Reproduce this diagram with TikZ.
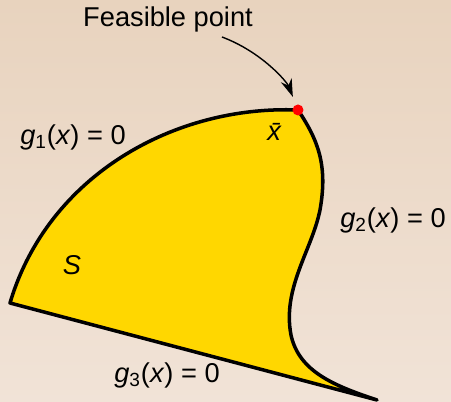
\documentclass[tikz,border=0pt]{standalone}
\usepackage{fontspec}
\setmainfont{Liberation Sans}
\usepackage{xcolor}
\usetikzlibrary{arrows.meta,positioning}
\definecolor{bgtop}{HTML}{E8D3BE}
\definecolor{bgbot}{HTML}{F1E3D7}
\definecolor{setfill}{HTML}{FFD700}
\tikzset{
  lbl/.style={font=\fontsize{15.5}{18}\selectfont,inner sep=1pt},
  bnd/.style={line width=2pt,line join=round},
  arr/.style={-{Stealth[length=3.6mm,width=2.3mm]},line width=0.8pt},
}
\newcommand{\gx}[1]{\textit{g}\textsubscript{#1}(\textit{x}) = 0}

\begin{document}
\begin{tikzpicture}[x=0.02cm,y=-0.02cm]
\fill[top color=bgtop,bottom color=bgbot] (0,0) rectangle (451,402);
\useasboundingbox (0,0) rectangle (451,402);
% the feasible set S
\coordinate (xb) at (298,110);
\coordinate (lc) at (10,303);
\coordinate (tip) at (377,400);
\filldraw[bnd,fill=setfill] (lc) .. controls (48,175) and (175,105) .. (xb)
  .. controls (318,140) and (328,165) .. (320,210)
  .. controls (312,250) and (282,288) .. (291,335)
  .. controls (299,372) and (335,386) .. (tip) -- cycle;
\fill[red] (xb) circle (5.5);
% labels
\node[lbl] (feas) at (168,19) {Feasible point};
\node[lbl] (xbar) at (276,132) {\textit{\=x}};
\node[lbl] (g1) at (73,137) {\gx{1}};
\node[lbl] (g2) at (393,220) {\gx{2}};
\node[lbl] (g3) at (167,375) {\gx{3}};
\node[lbl] (S) at (72,265) {\textit{S}};
\coordinate (from) at (222,37);
\draw[arr,shorten >=8pt] (from) .. controls (262,52) and (287,82) .. (xb);
\end{tikzpicture}
\end{document}
